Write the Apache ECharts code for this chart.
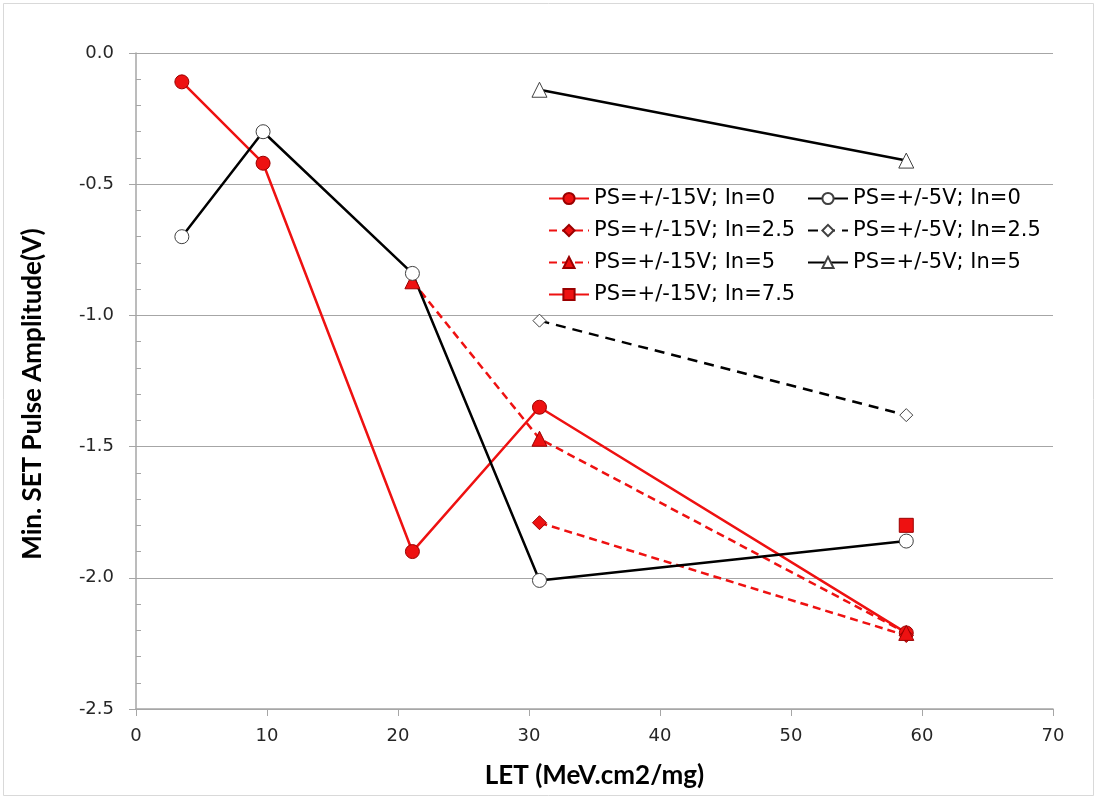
<!DOCTYPE html>
<html>
<head>
<meta charset="utf-8">
<script src="https://cdn.jsdelivr.net/npm/echarts@6/dist/echarts.min.js"></script>
<style>
  html, body { margin: 0; padding: 0; background: #ffffff; }
  #chart { width: 1097px; height: 799px; }
</style>
</head>
<body>
<div id="chart"></div>
<script>
// LET values (MeV.cm2/mg) at which the pulses were measured
const letAll = [3.5, 9.7, 21.1, 30.8, 58.8];
const letMid = [21.1, 30.8, 58.8];
const letHigh = [30.8, 58.8];
const letTop = [58.8];

// Minimum SET pulse amplitude (V), supply +/-15V
const ps15In0 = [-0.11, -0.42, -1.90, -1.35, -2.21];
const ps15In25 = [-1.79, -2.22];
const ps15In5 = [-0.87, -1.47, -2.21];
const ps15In75 = [-1.80];

// Minimum SET pulse amplitude (V), supply +/-5V
const ps5In0 = [-0.70, -0.30, -0.84, -2.01, -1.86];
const ps5In25 = [-1.02, -1.38];
const ps5In5 = [-0.14, -0.41];

const seriesNames = [
  'PS=+/-15V; In=0', 'PS=+/-15V; In=2.5', 'PS=+/-15V; In=5', 'PS=+/-15V; In=7.5',
  'PS=+/-5V; In=0', 'PS=+/-5V; In=2.5', 'PS=+/-5V; In=5'
];

const pairs = (xs, ys) => xs.map((x, i) => [x, ys[i]]);

const RED = '#ee1111';
const RED_EDGE = '#9a0000';
const BLACK = '#000000';
const WHITE_EDGE = '#404040';

function lineSeries(name, data, color, dash, symbol, size, fill, edge) {
  return {
    name: name,
    type: 'line',
    data: data,
    symbol: symbol,
    symbolSize: size,
    showAllSymbol: true,
    lineStyle: { color: color, width: 2.5, type: dash },
    itemStyle: { color: fill, borderColor: edge, borderWidth: 1 },
    emphasis: { disabled: true }
  };
}

const chart = echarts.init(document.getElementById('chart'), null, { renderer: 'canvas' });

const tickFont = { fontFamily: 'DejaVu Sans', fontSize: 18, color: '#262626' };
const titleFont = { fontFamily: 'Lato', fontWeight: 'bold', fontSize: 26, color: '#000000' };
const legendFont = { fontFamily: 'DejaVu Sans', fontSize: 21, color: '#000000' };

const option = {
  animation: false,
  backgroundColor: '#ffffff',
  graphic: [
    {
      type: 'rect',
      shape: { x: 3.5, y: 3.5, width: 1090, height: 792 },
      style: { fill: 'none', stroke: '#d9d9d9', lineWidth: 1 },
      silent: true
    },
    {
      // vertical axis title, centred on the chart area
      type: 'text',
      x: 33,
      y: 394,
      rotation: Math.PI / 2,
      style: {
        text: 'Min. SET Pulse Amplitude(V)',
        font: 'bold 26px Lato',
        fill: '#000000',
        textAlign: 'center',
        textVerticalAlign: 'middle'
      },
      silent: true
    }
  ],
  grid: { left: 136, right: 44, top: 53, bottom: 90 },
  legend: [
    {
      orient: 'vertical',
      left: 543,
      top: 183,
      itemWidth: 40,
      itemHeight: 14,
      itemGap: 11,
      textStyle: legendFont,
      data: seriesNames.slice(0, 4),
      selectedMode: false
    },
    {
      orient: 'vertical',
      left: 802,
      top: 183,
      itemWidth: 40,
      itemHeight: 14,
      itemGap: 11,
      textStyle: legendFont,
      data: seriesNames.slice(4),
      selectedMode: false
    }
  ],
  xAxis: {
    type: 'value',
    min: 0,
    max: 70,
    interval: 10,
    axisLine: { onZero: false, lineStyle: { color: '#a6a6a6', width: 1.5 } },
    axisTick: { show: true, length: 7, lineStyle: { color: '#a6a6a6' } },
    axisLabel: Object.assign({ margin: 18 }, tickFont),
    splitLine: { show: false },
    name: 'LET (MeV.cm2/mg)',
    nameLocation: 'middle',
    nameGap: 54,
    nameTextStyle: titleFont
  },
  yAxis: [
    {
      type: 'value',
      min: -2.5,
      max: 0,
      interval: 0.5,
      axisLine: { show: true, onZero: false, lineStyle: { color: '#a6a6a6', width: 1.5 } },
      axisTick: { show: true, length: 7, lineStyle: { color: '#a6a6a6' } },
      axisLabel: Object.assign({ margin: 22, formatter: v => v.toFixed(1) }, tickFont),
      splitLine: { show: true, lineStyle: { color: '#a6a6a6', width: 1.2 } }
    },
    {
      // minor ticks every 0.1 V, drawn inside the plot
      type: 'value',
      position: 'left',
      offset: 0,
      min: -2.5,
      max: 0,
      interval: 0.1,
      axisLine: { show: false },
      axisTick: { show: true, inside: true, length: 5, lineStyle: { color: '#a6a6a6' } },
      axisLabel: { show: false },
      splitLine: { show: false }
    }
  ],
  series: [
    lineSeries(seriesNames[0], pairs(letAll, ps15In0), RED, 'solid', 'circle', 14, RED, RED_EDGE),
    lineSeries(seriesNames[1], pairs(letHigh, ps15In25), RED, [8, 5], 'diamond', 14, RED, RED_EDGE),
    lineSeries(seriesNames[2], pairs(letMid, ps15In5), RED, [8, 5], 'triangle', 15, RED, RED_EDGE),
    lineSeries(seriesNames[3], pairs(letTop, ps15In75), RED, 'solid', 'rect', 14, RED, RED_EDGE),
    lineSeries(seriesNames[4], pairs(letAll, ps5In0), BLACK, 'solid', 'circle', 14, '#ffffff', WHITE_EDGE),
    lineSeries(seriesNames[5], pairs(letHigh, ps5In25), BLACK, [10, 7], 'diamond', 13, '#ffffff', WHITE_EDGE),
    lineSeries(seriesNames[6], pairs(letHigh, ps5In5), BLACK, 'solid', 'triangle', 15, '#ffffff', WHITE_EDGE)
  ]
};

chart.setOption(option);
</script>
</body>
</html>
